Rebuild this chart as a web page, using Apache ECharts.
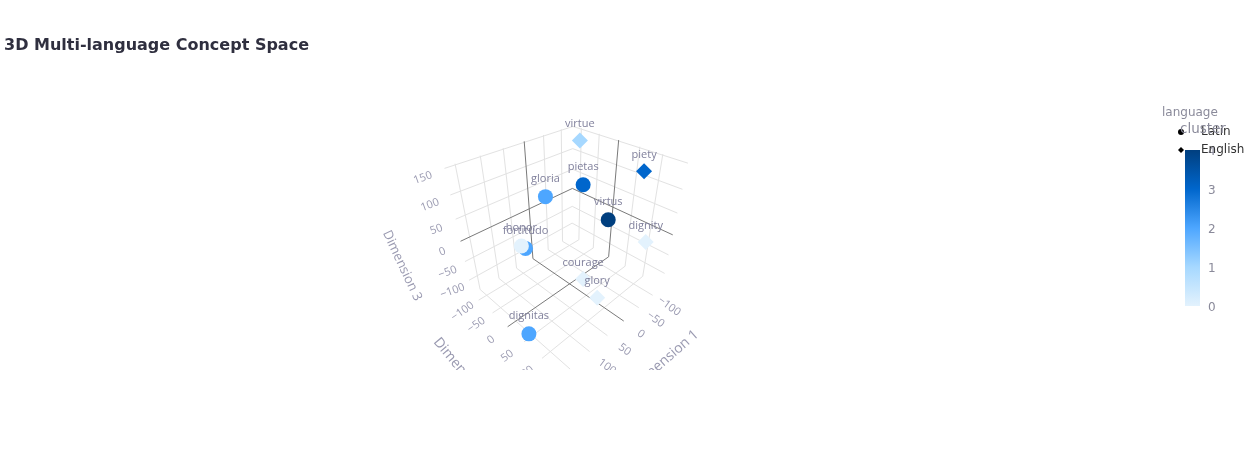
<!DOCTYPE html>
<html><head><meta charset="utf-8">
<style>html,body{margin:0;padding:0;background:#fff}#c{width:1249px;height:450px}</style>
<script src="https://cdn.jsdelivr.net/npm/echarts@6/dist/echarts.min.js"></script>
</head><body><div id="c"></div>
<script>
// data
const latinNames = ['fortitudo','honor','dignitas','gloria','pietas','virtus'];
const latinDim1  = [73, 91, 168, 20, -41, -48];
const latinDim2  = [-52, -40, 65, -46, -5, 56];
const latinDim3  = [-30, -8, -106, 69, 87, 32];
const latinCluster = [2, 0, 2, 2, 3, 4];
const englishNames = ['virtue','piety','dignity','courage','glory'];
const englishDim1  = [-114, -134, -80, 50, 57];
const englishDim2  = [-84, 67, 125, 84, 125];
const englishDim3  = [135, 108, -2, -39, -53];
const englishCluster = [1, 3, 0, 0, 0];
const xTicks = [-100,-50,0,50,100,150];
const yTicks = [-100,-50,0,50,100];
const zTicks = [-100,-50,0,50,100,150];
const xTickLabels = [-100,-50,0,50,100];
const colorTicks = [0,1,2,3,4];
const colorScale = ['#E3F2FD','#A6D8FF','#4DA6FF','#0066CC','#003F7F'];
// scene box and camera
const xR=[-135,170], yR=[-125,150], zR=[-140,152];
const cam={cx:568,cy:235.5,F:350,D:673};
const mid=[(xR[0]+xR[1])/2,(yR[0]+yR[1])/2,(zR[0]+zR[1])/2];
function project(x,y,z){
  const a=x-mid[0],b=y-mid[1],c=z-mid[2];
  const X=(-a+b)/Math.SQRT2, Y=(-a-b+2*c)/Math.sqrt(6), Z=cam.D-(a+b+c)/Math.sqrt(3);
  return [cam.cx+cam.F*X/Z, cam.cy-cam.F*Y/Z];
}
const gridPts=[], zeroPts=[];
function seg(p,q,zero){const t=zero?zeroPts:gridPts;t.push(project(...p),project(...q),['-','-']);}
xTicks.forEach(v=>{seg([v,yR[0],zR[0]],[v,yR[1],zR[0]],v===0);seg([v,yR[0],zR[0]],[v,yR[0],zR[1]],v===0);});
yTicks.forEach(v=>{seg([xR[0],v,zR[0]],[xR[1],v,zR[0]],v===0);seg([xR[0],v,zR[0]],[xR[0],v,zR[1]],v===0);});
zTicks.forEach(v=>{seg([xR[0],yR[0],v],[xR[1],yR[0],v],v===0);seg([xR[0],yR[0],v],[xR[0],yR[1],v],v===0);});
const axCol='#80809c', FONT='"Open Sans"';
function txt(pos,s,rot,size){return {value:pos,label:{show:true,position:'inside',formatter:String(s),rotate:rot,fontFamily:FONT,fontSize:size,color:axCol,align:'center',verticalAlign:'middle'}};}
const tickData=[];
xTickLabels.forEach(v=>tickData.push(txt(project(v,yR[1]+41,zR[0]-3),String(v).replace('-','\u2212'),-36,11)));
yTicks.forEach(v=>tickData.push(txt(project(xR[1]+39,v,zR[0]-4),String(v).replace('-','\u2212'),35,11)));
zTicks.forEach(v=>tickData.push(txt(project(xR[1]+39,yR[0],v-4),String(v).replace('-','\u2212'),20,11)));
tickData.push(txt(project(mid[0],yR[1]+106,zR[0]),'Dimension 1',41,14));
tickData.push(txt(project(xR[1]+113,mid[1]+10,zR[0]),'Dimension 2',-50,14));
tickData.push(txt(project(xR[1]+112,yR[0],mid[2]),'Dimension 3',-65,13));
function pts(n,a,b,c,k){return n.map((s,i)=>{const p=project(a[i],b[i],c[i]);return [p[0],p[1],k[i],s];});}
function scatter(name,symbol,size,dist,data){return {name,type:'scatter',symbol,symbolSize:size,data,xAxisIndex:0,yAxisIndex:0,z:5,itemStyle:{opacity:1},
  label:{show:true,position:'top',distance:dist,formatter:p=>p.data[3],fontFamily:FONT,fontSize:11,color:axCol}};}
const chart=echarts.init(document.getElementById('c'),null,{renderer:'canvas'});
chart.setOption({
  animation:false,backgroundColor:'#fff',
  title:[
    {text:'3D Multi-language Concept Space',left:4,top:38,textStyle:{fontFamily:'DejaVu Sans',fontSize:16,fontWeight:'bold',color:'#2f2f3f'},padding:0},
    {text:'language',left:1162,top:107,padding:0,textStyle:{fontFamily:'DejaVu Sans',fontSize:12,fontWeight:'normal',color:'#8a8a9a'}},
    {text:'cluster',left:1180,top:122,padding:0,textStyle:{fontFamily:'DejaVu Sans',fontSize:13.5,fontWeight:'normal',color:'#8a8a9a'}}
  ],
  grid:[{left:0,top:0,width:1249,height:450},{left:1185,top:150,width:15,height:156},{left:1185,top:152,width:15,height:156}],
  xAxis:[{type:'value',min:0,max:1249,show:false},{type:'category',gridIndex:1,show:false,data:['cluster']},{type:'value',gridIndex:2,show:false,min:0,max:1}],
  yAxis:[{type:'value',min:0,max:450,inverse:true,show:false},
    {type:'value',gridIndex:1,min:colorTicks[0],max:colorTicks[4],show:false},
    {type:'value',gridIndex:2,min:colorTicks[0],max:colorTicks[4],interval:1,position:'right',splitLine:{show:false},axisLine:{show:false},axisTick:{show:false},
     axisLabel:{margin:8,fontFamily:'DejaVu Sans',fontSize:12,color:'#8a8a9a'}}],
  visualMap:{type:'continuous',show:false,min:0,max:4,dimension:2,seriesIndex:[3,4],inRange:{color:colorScale}},
  legend:{left:1178,top:126,orient:'vertical',itemWidth:6,itemHeight:6,itemGap:6,padding:0,selectedMode:false,
    textStyle:{fontFamily:'DejaVu Sans',fontSize:12,color:'#333',padding:[0,0,0,12]},
    data:[{name:'Latin',icon:'circle',itemStyle:{color:'#000'}},{name:'English',icon:'diamond',itemStyle:{color:'#000'}}]},
  graphic:[{type:'rect',shape:{x:300,y:370,width:500,height:80},style:{fill:'#fff'},z:100,silent:true}],
  series:[
    {type:'line',data:gridPts,showSymbol:false,silent:true,lineStyle:{color:'#e2e2e2',width:1},z:1},
    {type:'line',data:zeroPts,showSymbol:false,silent:true,lineStyle:{color:'#7a7a7a',width:1},z:2},
    {type:'scatter',data:tickData,symbolSize:1,itemStyle:{color:'transparent'},silent:true,z:3},
    scatter('Latin','circle',15,5,pts(latinNames,latinDim1,latinDim2,latinDim3,latinCluster)),
    scatter('English','diamond',16,3,pts(englishNames,englishDim1,englishDim2,englishDim3,englishCluster)),
    {type:'bar',xAxisIndex:1,yAxisIndex:1,data:[colorTicks[4]],barWidth:'100%',silent:true,z:1,
     itemStyle:{color:new echarts.graphic.LinearGradient(0,1,0,0,colorScale.map((c,i)=>({offset:i/4,color:c})))}}
  ]
});
</script></body></html>
